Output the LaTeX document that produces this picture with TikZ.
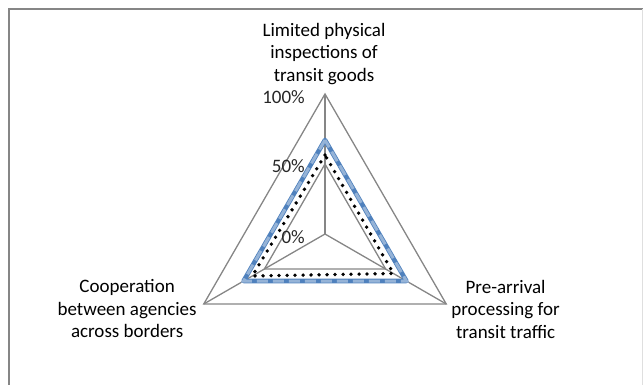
\documentclass[tikz,border=0pt]{standalone}
\usepackage{fontspec}
\setmainfont{Carlito}
\usetikzlibrary{positioning}

\definecolor{gridgray}{HTML}{868686}
\definecolor{seriesblue}{HTML}{4F81BD}
\definecolor{serieslight}{HTML}{95B3D7}

\begin{document}
\begin{tikzpicture}[x=1pt,y=1pt]
  \tikzset{gridline/.style={draw=gridgray,line width=1.3pt},
    catlabel/.style={align=center,inner sep=0pt,font=\fontsize{19}{22.5}\selectfont},
    pctlabel/.style={anchor=east,inner sep=0pt,text=black!85,font=\fontsize{19}{22.5}\selectfont}}

\useasboundingbox (0,-385) rectangle (643,0);

%%%%%%%%%%%%%%%%%%%%%%%%%%
% chart frame
\draw[gridgray,line width=1.4pt] (9,-385) -- (9,-9) -- (643,-9);
\draw[gray!25,line width=0.8pt] (642,-9) -- (642,-385);

%%%%%%%%%%%%%%%%%%%%%%%%%%
\begin{scope}[shift={(325,-234)}]
  \coordinate (Center) at (0,0);
  \coordinate (FullTop) at (90:140);
  \coordinate (FullLeft) at (210:140);
  \coordinate (FullRight) at (330:140);
  \coordinate (HalfTop) at (90:70);
  \coordinate (HalfLeft) at (210:70);
  \coordinate (HalfRight) at (330:70);

  % series
  \coordinate (BlueTop) at (90:94);
  \coordinate (BlueLeft) at (210:94);
  \coordinate (BlueRight) at (330:94);
  \coordinate (DotTop) at (90:79);
  \coordinate (DotLeft) at (210:84);
  \coordinate (DotRight) at (330:79);
\end{scope}

%GRID
\draw[gridline] (FullTop) -- (FullLeft) -- (FullRight) -- cycle;
\draw[gridline] (HalfTop) -- (HalfLeft) -- (HalfRight) -- cycle;
\draw[gridline] (Center) -- (FullTop);
\draw[gridline] (Center) -- (FullLeft);
\draw[gridline] (Center) -- (FullRight);

%SERIES
\draw[seriesblue,line width=4.6pt,line join=round] (BlueTop) -- (BlueLeft) -- (BlueRight) -- cycle;
\draw[serieslight,line width=3pt,dash pattern=on 11pt off 5pt] (BlueTop) -- (BlueLeft) -- (BlueRight) -- cycle;
\draw[black,line width=3.8pt,line cap=round,dash pattern=on 0pt off 8pt] (DotTop) -- (DotLeft) -- (DotRight) -- cycle;

%AXIS
\node[pctlabel] (PctFull) at ([xshift=-20pt,yshift=-3pt]FullTop) {100\%};
\node[pctlabel] (PctHalf) at ([xshift=-20pt,yshift=-2pt]HalfTop) {50\%};
\node[pctlabel] (PctZero) at ([xshift=-20pt,yshift=-3pt]Center) {0\%};

%LABELS
\node[catlabel] (NLimited) at (324,-54) {Limited physical\\inspections of\\transit goods};
\node[catlabel,anchor=east] (NCooperation) at ([xshift=-7pt,yshift=-5pt]FullLeft) {Cooperation\\between agencies\\across borders};
\node[catlabel,anchor=west] (NPrearrival) at ([xshift=5pt,yshift=-5pt]FullRight) {Pre-arrival\\processing for\\transit traffic};

\end{tikzpicture}
\end{document}
